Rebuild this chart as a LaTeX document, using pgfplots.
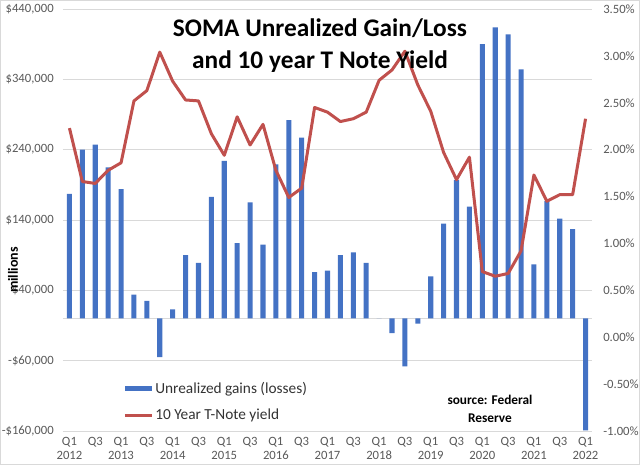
\documentclass[border=0pt]{standalone}
\usepackage{pgfplots}
\pgfplotsset{compat=1.18}
\usepackage{fontspec}
\setmainfont{Carlito}
\definecolor{barblue}{HTML}{4472C4}
\definecolor{linered}{HTML}{C0504D}
\definecolor{ticktext}{HTML}{595959}
\definecolor{gridc}{HTML}{D9D9D9}
\begin{document}
\begin{tikzpicture}
\path[use as bounding box] (-47.25pt,-25.5pt) rectangle (432.75pt,323.25pt);
\draw[gridc, line width=0.75pt] (-46.9pt,-25.1pt) rectangle (432.4pt,322.9pt);
\begin{axis}[
  at={(0pt,0pt)}, anchor=south west,
  scale only axis, width=396.75pt, height=316.5pt,
  xmin=-0.5, xmax=40.5, ymin=-160000, ymax=440000,
  axis line style={draw=none}, tick style={draw=none},
  ytick={-160000,-60000,40000,140000,240000,340000,440000},
  yticklabels={{-\$160,000},{-\$60,000},{\$40,000},{\$140,000},{\$240,000},{\$340,000},{\$440,000}},
  ymajorgrids, grid style={gridc, line width=0.75pt},
  extra y ticks={0}, extra y tick labels={}, extra y tick style={ymajorgrids=true, grid style={gridc, line width=0.75pt}},
  xtick={0,2,...,40},
  xticklabels={{Q1\\2012},Q3,{Q1\\2013},Q3,{Q1\\2014},Q3,{Q1\\2015},Q3,{Q1\\2016},Q3,{Q1\\2017},Q3,{Q1\\2018},Q3,{Q1\\2019},Q3,{Q1\\2020},Q3,{Q1\\2021},Q3,{Q1\\2022}},
  xticklabel style={align=center, font=\fontsize{9.5}{10.5}\selectfont, text=ticktext, inner sep=0pt, yshift=-4.5pt, anchor=north},
  yticklabel style={font=\fontsize{9.5}{11}\selectfont, text=ticktext, inner sep=0pt, xshift=-6.75pt, anchor=east},
  legend style={at={(axis description cs:0.1134,0.122)}, anchor=north west, draw=none, fill=none,
    font=\fontsize{11.5}{13}\selectfont, text=black!80, row sep=7.5pt, inner sep=0pt, nodes={inner sep=1.5pt}},
  legend cell align=left,
]
\addplot[ybar, bar width=3.8pt, fill=barblue, draw=none,
  legend image code/.code={\fill[barblue] (0pt,-1.9pt) rectangle (20.25pt,1.9pt);}]
coordinates {
(0,177000) (1,240000) (2,247000) (3,215000) (4,184000) (5,34000) (6,25000) (7,-55000)
(8,13000) (9,90000) (10,79000) (11,173000) (12,224000) (13,107000) (14,165000) (15,105000)
(16,219000) (17,282000) (18,257000) (19,66000) (20,68000) (21,90000) (22,94000) (23,79000)
(24,0) (25,-21000) (26,-68000) (27,-7500) (28,60000) (29,135000) (30,197000) (31,159000)
(32,390000) (33,414000) (34,404000) (35,354000) (36,77000) (37,167000) (38,142000) (39,127000)
(40,-159000)};
\addlegendentry{Unrealized gains (losses)}
\addlegendimage{legend image code/.code={\draw[linered, line width=2.25pt] (0pt,0pt) -- (20.25pt,0pt);}}
\addlegendentry{10 Year T-Note yield}
\end{axis}
\begin{axis}[
  at={(0pt,0pt)}, anchor=south west,
  scale only axis, width=396.75pt, height=316.5pt,
  xmin=-0.5, xmax=40.5, ymin=-1, ymax=3.5,
  axis x line=none, axis y line*=right, xtick=\empty,
  axis line style={draw=none}, tick style={draw=none},
  ytick={-1,-0.5,0,0.5,1,1.5,2,2.5,3,3.5},
  yticklabels={{-1.00\%},{-0.50\%},{0.00\%},{0.50\%},{1.00\%},{1.50\%},{2.00\%},{2.50\%},{3.00\%},{3.50\%}},
  yticklabel style={font=\fontsize{9.5}{11}\selectfont, text=ticktext, inner sep=0pt, xshift=8.25pt, anchor=west},
]
\addplot[linered, line width=2.25pt, line join=round, mark=none] coordinates {
(0,2.23) (1,1.66) (2,1.64) (3,1.78) (4,1.86) (5,2.52) (6,2.63) (7,3.04)
(8,2.73) (9,2.53) (10,2.52) (11,2.17) (12,1.94) (13,2.35) (14,2.05) (15,2.27)
(16,1.78) (17,1.49) (18,1.59) (19,2.45) (20,2.40) (21,2.30) (22,2.33) (23,2.40)
(24,2.74) (25,2.85) (26,3.05) (27,2.69) (28,2.41) (29,1.97) (30,1.68) (31,1.92)
(32,0.70) (33,0.65) (34,0.68) (35,0.92) (36,1.73) (37,1.45) (38,1.52) (39,1.52)
(40,2.33)};
\end{axis}
\node[font=\fontsize{19}{24}\selectfont\bfseries, align=center] at (192.75pt,288.75pt) {SOMA Unrealized Gain/Loss\\and 10 year T Note Yield};
\node[rotate=90, font=\fontsize{10.5}{12}\selectfont\bfseries] at (-37.5pt,120.75pt) {millions};
\node[font=\fontsize{10}{13}\selectfont\bfseries, align=center] at (320.25pt,16.5pt) {source: Federal\\Reserve};
\end{tikzpicture}
\end{document}
